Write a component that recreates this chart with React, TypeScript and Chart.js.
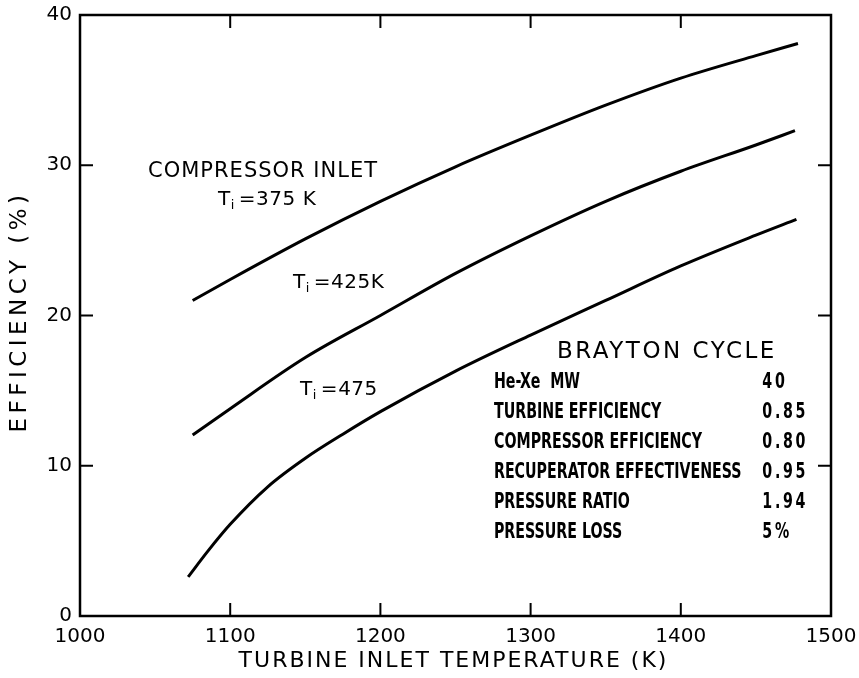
import React, { useEffect, useRef } from 'react';
import { Chart, registerables } from 'chart.js';

Chart.register(...registerables);

// ---- data ----
const xTickValues = [1000, 1100, 1200, 1300, 1400, 1500];
const yTickValues = [0, 10, 20, 30, 40];

const temp375 = [1075, 1100, 1150, 1200, 1250, 1300, 1350, 1400, 1450, 1478];
const eff375 = [21.0, 22.4, 25.1, 27.6, 29.9, 32.0, 34.0, 35.8, 37.3, 38.1];

const temp425 = [1075, 1100, 1150, 1200, 1250, 1300, 1350, 1400, 1450, 1476];
const eff425 = [12.05, 13.8, 17.2, 20.0, 22.8, 25.3, 27.6, 29.6, 31.35, 32.3];

const temp475 = [1072, 1085, 1100, 1125, 1150, 1175, 1200, 1250, 1300, 1350, 1400, 1450, 1477];
const eff475 = [2.6, 4.3, 6.1, 8.6, 10.5, 12.1, 13.6, 16.3, 18.7, 21.0, 23.3, 25.35, 26.4];

const tableTitle = 'BRAYTON CYCLE';
const tableLabels = [
  'He-Xe  MW',
  'TURBINE EFFICIENCY',
  'COMPRESSOR EFFICIENCY',
  'RECUPERATOR EFFECTIVENESS',
  'PRESSURE RATIO',
  'PRESSURE LOSS',
];
const tableValues = ['40', '0.85', '0.80', '0.95', '1.94', '5%'];

const xTitle = 'TURBINE INLET TEMPERATURE (K)';
const yTitle = 'EFFICIENCY (%)';

const GOTHIC = '"DejaVu Sans", "Liberation Sans", sans-serif';
const NARROW = '"Liberation Sans Narrow", "DejaVu Sans Condensed", "Liberation Sans", sans-serif';

function drawText(
  ctx: CanvasRenderingContext2D,
  s: string,
  px: number,
  py: number,
  font: string,
  spacing = 0,
  align: CanvasTextAlign = 'left',
  sx = 1
) {
  ctx.save();
  ctx.font = font;
  (ctx as any).letterSpacing = spacing + 'px';
  ctx.textAlign = align;
  ctx.textBaseline = 'middle';
  ctx.fillStyle = '#000';
  ctx.translate(px, py);
  ctx.scale(sx, 1);
  ctx.fillText(s, 0, 0);
  ctx.restore();
}

function drawTi(ctx: CanvasRenderingContext2D, px: number, py: number, rest: string) {
  ctx.save();
  ctx.font = `20px ${GOTHIC}`;
  (ctx as any).letterSpacing = '0px';
  const wT = ctx.measureText('T').width;
  ctx.font = `13px ${GOTHIC}`;
  const wi = ctx.measureText('i').width;
  ctx.restore();
  drawText(ctx, 'T', px, py, `20px ${GOTHIC}`);
  drawText(ctx, 'i', px + wT + 0.5, py + 6, `13px ${GOTHIC}`);
  drawText(ctx, rest, px + wT + wi + 5, py, `20px ${GOTHIC}`, 0.5);
}

const annotate = {
  id: 'annotate',
  afterDraw(chart: any) {
    const { ctx, chartArea: a } = chart;
    const x = chart.scales.x;
    const y = chart.scales.y;
    const X = (v: number) => x.getPixelForValue(v);
    const Y = (v: number) => y.getPixelForValue(v);

    ctx.save();
    ctx.strokeStyle = '#000';
    ctx.lineWidth = 2.5;
    ctx.strokeRect(a.left, a.top, a.right - a.left, a.bottom - a.top);

    // inward ticks on all four sides
    ctx.lineWidth = 2;
    const tl = 13;
    ctx.beginPath();
    x.ticks.forEach((t: any) => {
      if (t.value <= x.min || t.value >= x.max) return;
      const px = X(t.value);
      ctx.moveTo(px, a.bottom);
      ctx.lineTo(px, a.bottom - tl);
      ctx.moveTo(px, a.top);
      ctx.lineTo(px, a.top + tl);
    });
    y.ticks.forEach((t: any) => {
      if (t.value <= y.min || t.value >= y.max) return;
      const py = Y(t.value);
      ctx.moveTo(a.left, py);
      ctx.lineTo(a.left + tl, py);
      ctx.moveTo(a.right, py);
      ctx.lineTo(a.right - tl, py);
    });
    ctx.stroke();
    ctx.restore();

    // axis titles
    drawText(ctx, xTitle, (a.left + a.right) / 2 - 2, 661, `22px ${GOTHIC}`, 2, 'center');
    ctx.save();
    ctx.translate(20, (a.top + a.bottom) / 2 - 4);
    ctx.rotate(-Math.PI / 2);
    drawText(ctx, yTitle, 0, 0, `23px ${GOTHIC}`, 4.5, 'center');
    ctx.restore();

    // curve labels
    drawText(ctx, 'COMPRESSOR INLET', X(1045.3), Y(29.55), `21px ${GOTHIC}`, 1);
    drawTi(ctx, X(1091.9), Y(27.7), '=375 K');
    drawTi(ctx, X(1141.8), Y(22.16), '=425K');
    drawTi(ctx, X(1146.5), Y(15.04), '=475');

    // parameter table
    drawText(ctx, tableTitle, X(1317.6), Y(17.57), `23px ${GOTHIC}`, 2.5);
    const rowFont = `bold 21px ${NARROW}`;
    ctx.save();
    ctx.font = rowFont;
    (ctx as any).letterSpacing = '0px';
    const measured =
      ctx.measureText(tableLabels[1]).width +
      ctx.measureText(tableLabels[2]).width +
      ctx.measureText(tableLabels[3]).width +
      ctx.measureText(tableLabels[4]).width;
    const sx = 759 / measured;
    ctx.restore();
    const rowY0 = 15.55;
    const rowStep = 30 / 15.025;
    tableLabels.forEach((lab, i) => {
      const py = Y(rowY0 - i * rowStep);
      drawText(ctx, lab, X(1275.6), py, rowFont, 0, 'left', sx);
      drawText(ctx, tableValues[i], X(1454.3), py, rowFont, 3.5, 'left', sx);
    });
  },
};

export default function App() {
  const ref = useRef<HTMLCanvasElement>(null);

  useEffect(() => {
    const line = (temps: number[], effs: number[], label: string) => ({
      label,
      data: temps.map((t, i) => ({ x: t, y: effs[i] })),
      borderColor: '#000',
      backgroundColor: '#000',
      borderWidth: 3,
      pointRadius: 0,
      cubicInterpolationMode: 'monotone' as const,
      fill: false,
    });

    const tickFont = { family: GOTHIC, size: 20 };
    const noPad = (s: any) => {
      s.paddingTop = 0;
      s.paddingBottom = 0;
      s.paddingLeft = 0;
      s.paddingRight = 0;
    };

    const chart = new Chart(ref.current!, {
      type: 'line',
      data: {
        datasets: [
          line(temp375, eff375, 'Ti = 375 K'),
          line(temp425, eff425, 'Ti = 425 K'),
          line(temp475, eff475, 'Ti = 475 K'),
        ],
      },
      options: {
        animation: false,
        responsive: true,
        maintainAspectRatio: false,
        layout: { padding: { top: 15, right: 28, left: 0, bottom: 0 } },
        plugins: {
          legend: { display: false },
          tooltip: { enabled: false },
        },
        scales: {
          x: {
            type: 'linear',
            min: 1000,
            max: 1500,
            afterBuildTicks: (s: any) => {
              s.ticks = xTickValues.map((v) => ({ value: v }));
            },
            afterFit: (s: any) => {
              s.height = 62;
              noPad(s);
            },
            grid: { display: false, drawTicks: false },
            border: { display: false },
            ticks: {
              font: tickFont,
              color: '#000',
              padding: 9,
              maxRotation: 0,
              callback: (v: any) => String(v),
            },
          },
          y: {
            type: 'linear',
            min: 0,
            max: 40,
            afterBuildTicks: (s: any) => {
              s.ticks = yTickValues.map((v) => ({ value: v }));
            },
            afterFit: (s: any) => {
              s.width = 80;
              noPad(s);
            },
            grid: { display: false, drawTicks: false },
            border: { display: false },
            ticks: { font: tickFont, color: '#000', padding: 8, callback: (v: any) => String(v) },
          },
        },
      },
      plugins: [annotate],
    });
    return () => chart.destroy();
  }, []);

  return (
    <div
      style={{
        position: 'absolute',
        left: 0,
        top: 0,
        width: 859,
        height: 678,
        background: '#fff',
      }}
    >
      <canvas ref={ref} />
    </div>
  );
}
